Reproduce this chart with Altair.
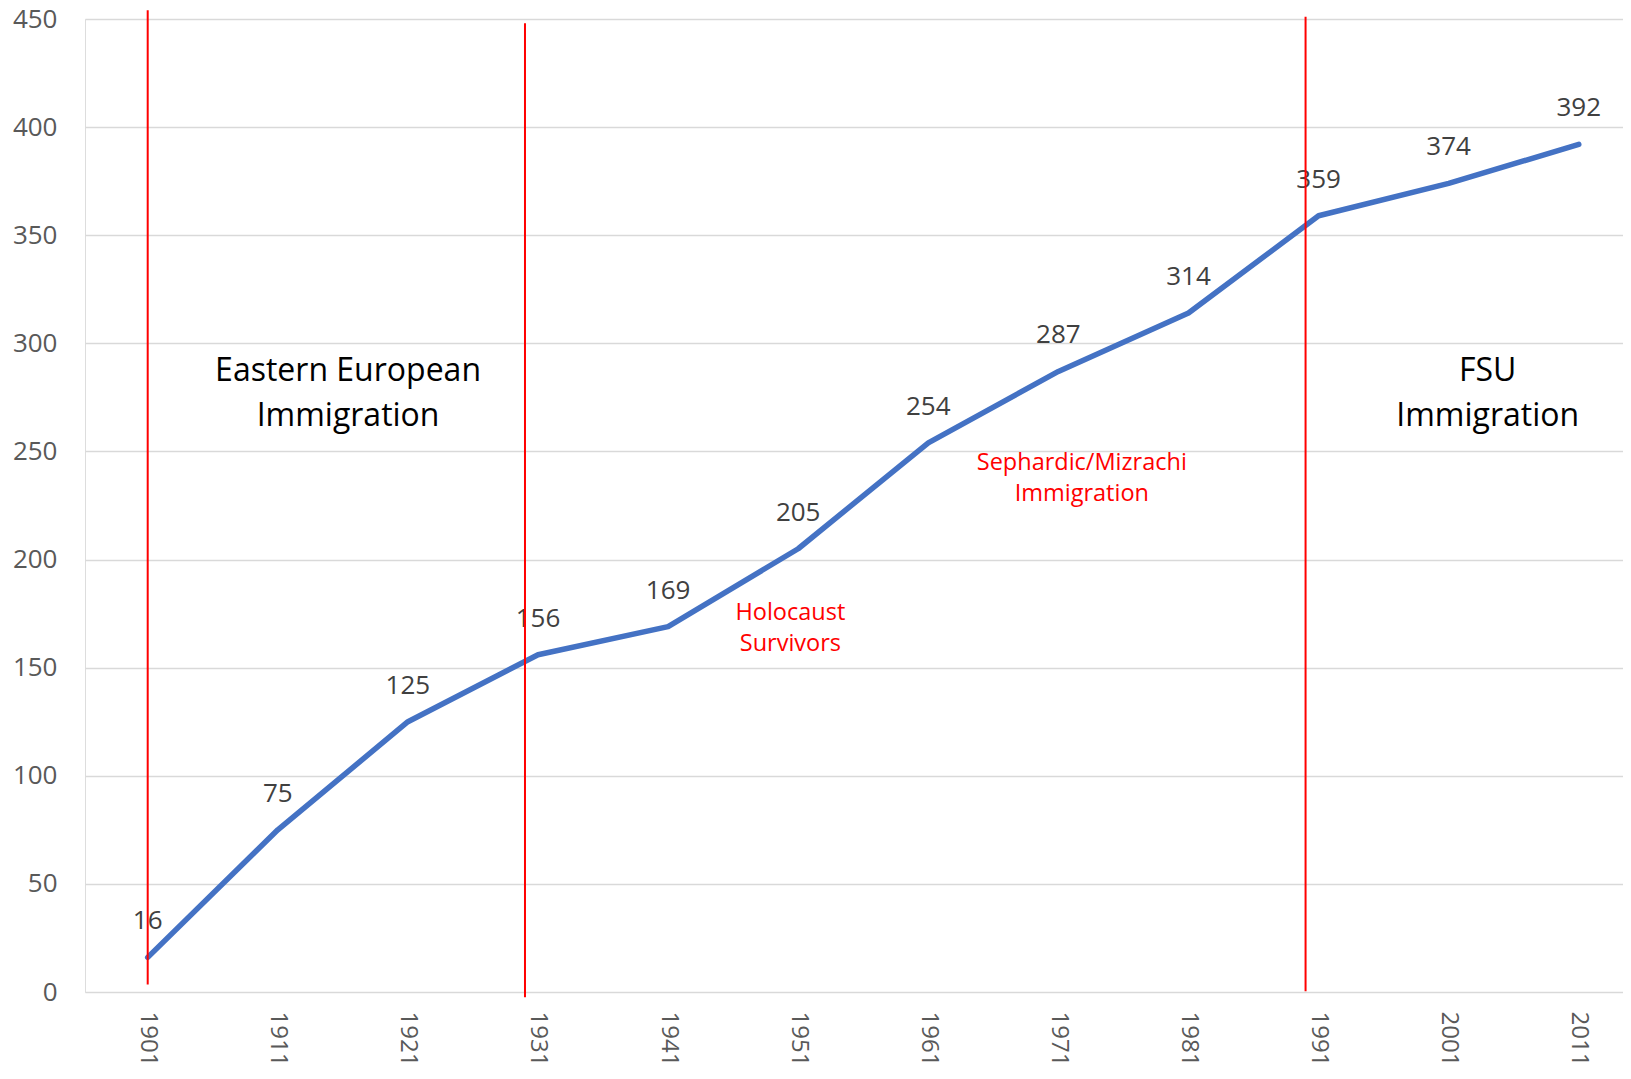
import altair as alt
import pandas as pd

# Census years and Jewish population (thousands)
years = [1901, 1911, 1921, 1931, 1941, 1951, 1961, 1971, 1981, 1991, 2001, 2011]
values = [16, 75, 125, 156, 169, 205, 254, 287, 314, 359, 374, 392]
y_ticks = [0, 50, 100, 150, 200, 250, 300, 350, 400, 450]

# red divider lines (drawn shapes), in data units
divider_year = [1901, 1930, 1990]
divider_top = [454, 448, 451]
divider_bottom = [3.5, -2.4, 0.3]

# era annotations (black); value = first line centre
era_text = ["Eastern European\nImmigration", "FSU\nImmigration"]
era_year = [1916.4, 2004.0]
era_value = [287.0, 287.0]

# wave annotations (red); value = first line centre
wave_text = ["Holocaust\nSurvivors", "Sephardic/Mizrachi\nImmigration"]
wave_year = [1950.4, 1972.8]
wave_value = [175.3, 244.7]

FONT = "Open Sans"

df = pd.DataFrame({"year": years, "value": values})
div_df = pd.DataFrame({"year": divider_year, "top": divider_top, "bottom": divider_bottom})
era_df = pd.DataFrame({"year": era_year, "value": era_value, "label": era_text})
wave_df = pd.DataFrame({"year": wave_year, "value": wave_value, "label": wave_text})

x_scale = alt.Scale(domain=[1896.18, 2014.4], nice=False, zero=False)
y_scale = alt.Scale(domain=[0, 450], nice=False, zero=False)

x_enc = alt.X(
    "year:Q",
    scale=x_scale,
    axis=alt.Axis(
        values=years, format="d", labelAngle=90, grid=False, domain=False,
        ticks=False, tickSize=0, labelPadding=19, labelFontSize=24,
        labelColor="#595959", labelFont=FONT, title=None,
    ),
)
y_enc = alt.Y(
    "value:Q",
    scale=y_scale,
    axis=alt.Axis(
        values=y_ticks, grid=True, gridColor="#d9d9d9", gridWidth=1.5,
        domain=False, ticks=False, tickSize=0, labelPadding=28,
        labelFontSize=26, labelColor="#595959", labelFont=FONT, title=None,
    ),
)

line = alt.Chart(df).mark_line(
    color="#4472C4", strokeWidth=5.5, strokeCap="round", strokeJoin="round"
).encode(x=x_enc, y=y_enc)

labels = alt.Chart(df).mark_text(
    dy=-36, fontSize=26, font=FONT, color="#404040", align="center", baseline="middle"
).encode(x="year:Q", y="value:Q", text=alt.Text("value:Q", format="d"))

dividers = alt.Chart(div_df).mark_rule(color="#FF0000", strokeWidth=2).encode(
    x="year:Q", y="top:Q", y2="bottom:Q"
)

era = alt.Chart(era_df).mark_text(
    fontSize=32, font=FONT, color="#000000", lineBreak="\n", lineHeight=45,
    align="center", baseline="middle",
).encode(x="year:Q", y="value:Q", text="label:N")

wave = alt.Chart(wave_df).mark_text(
    fontSize=23.5, font=FONT, color="#FF0000", lineBreak="\n", lineHeight=31.5,
    align="center", baseline="middle",
).encode(x="year:Q", y="value:Q", text="label:N")

chart = (
    alt.layer(line, labels, dividers, era, wave)
    .properties(
        width=1538,
        height=973,
        padding={"left": 77, "top": 11, "right": 0, "bottom": 74},
        autosize=alt.AutoSizeParams(type="none"),
        title=alt.TitleParams(
            "(in thousands)", baseline="bottom", offset=7, dx=-22, fontSize=28,
            color="#595959", font=FONT, fontWeight="normal", anchor="middle",
        ),
    )
    .configure_view(stroke=None)
    .configure(background="white")
)

chart.save("out.html", embed_options={"renderer": "svg", "actions": False})
